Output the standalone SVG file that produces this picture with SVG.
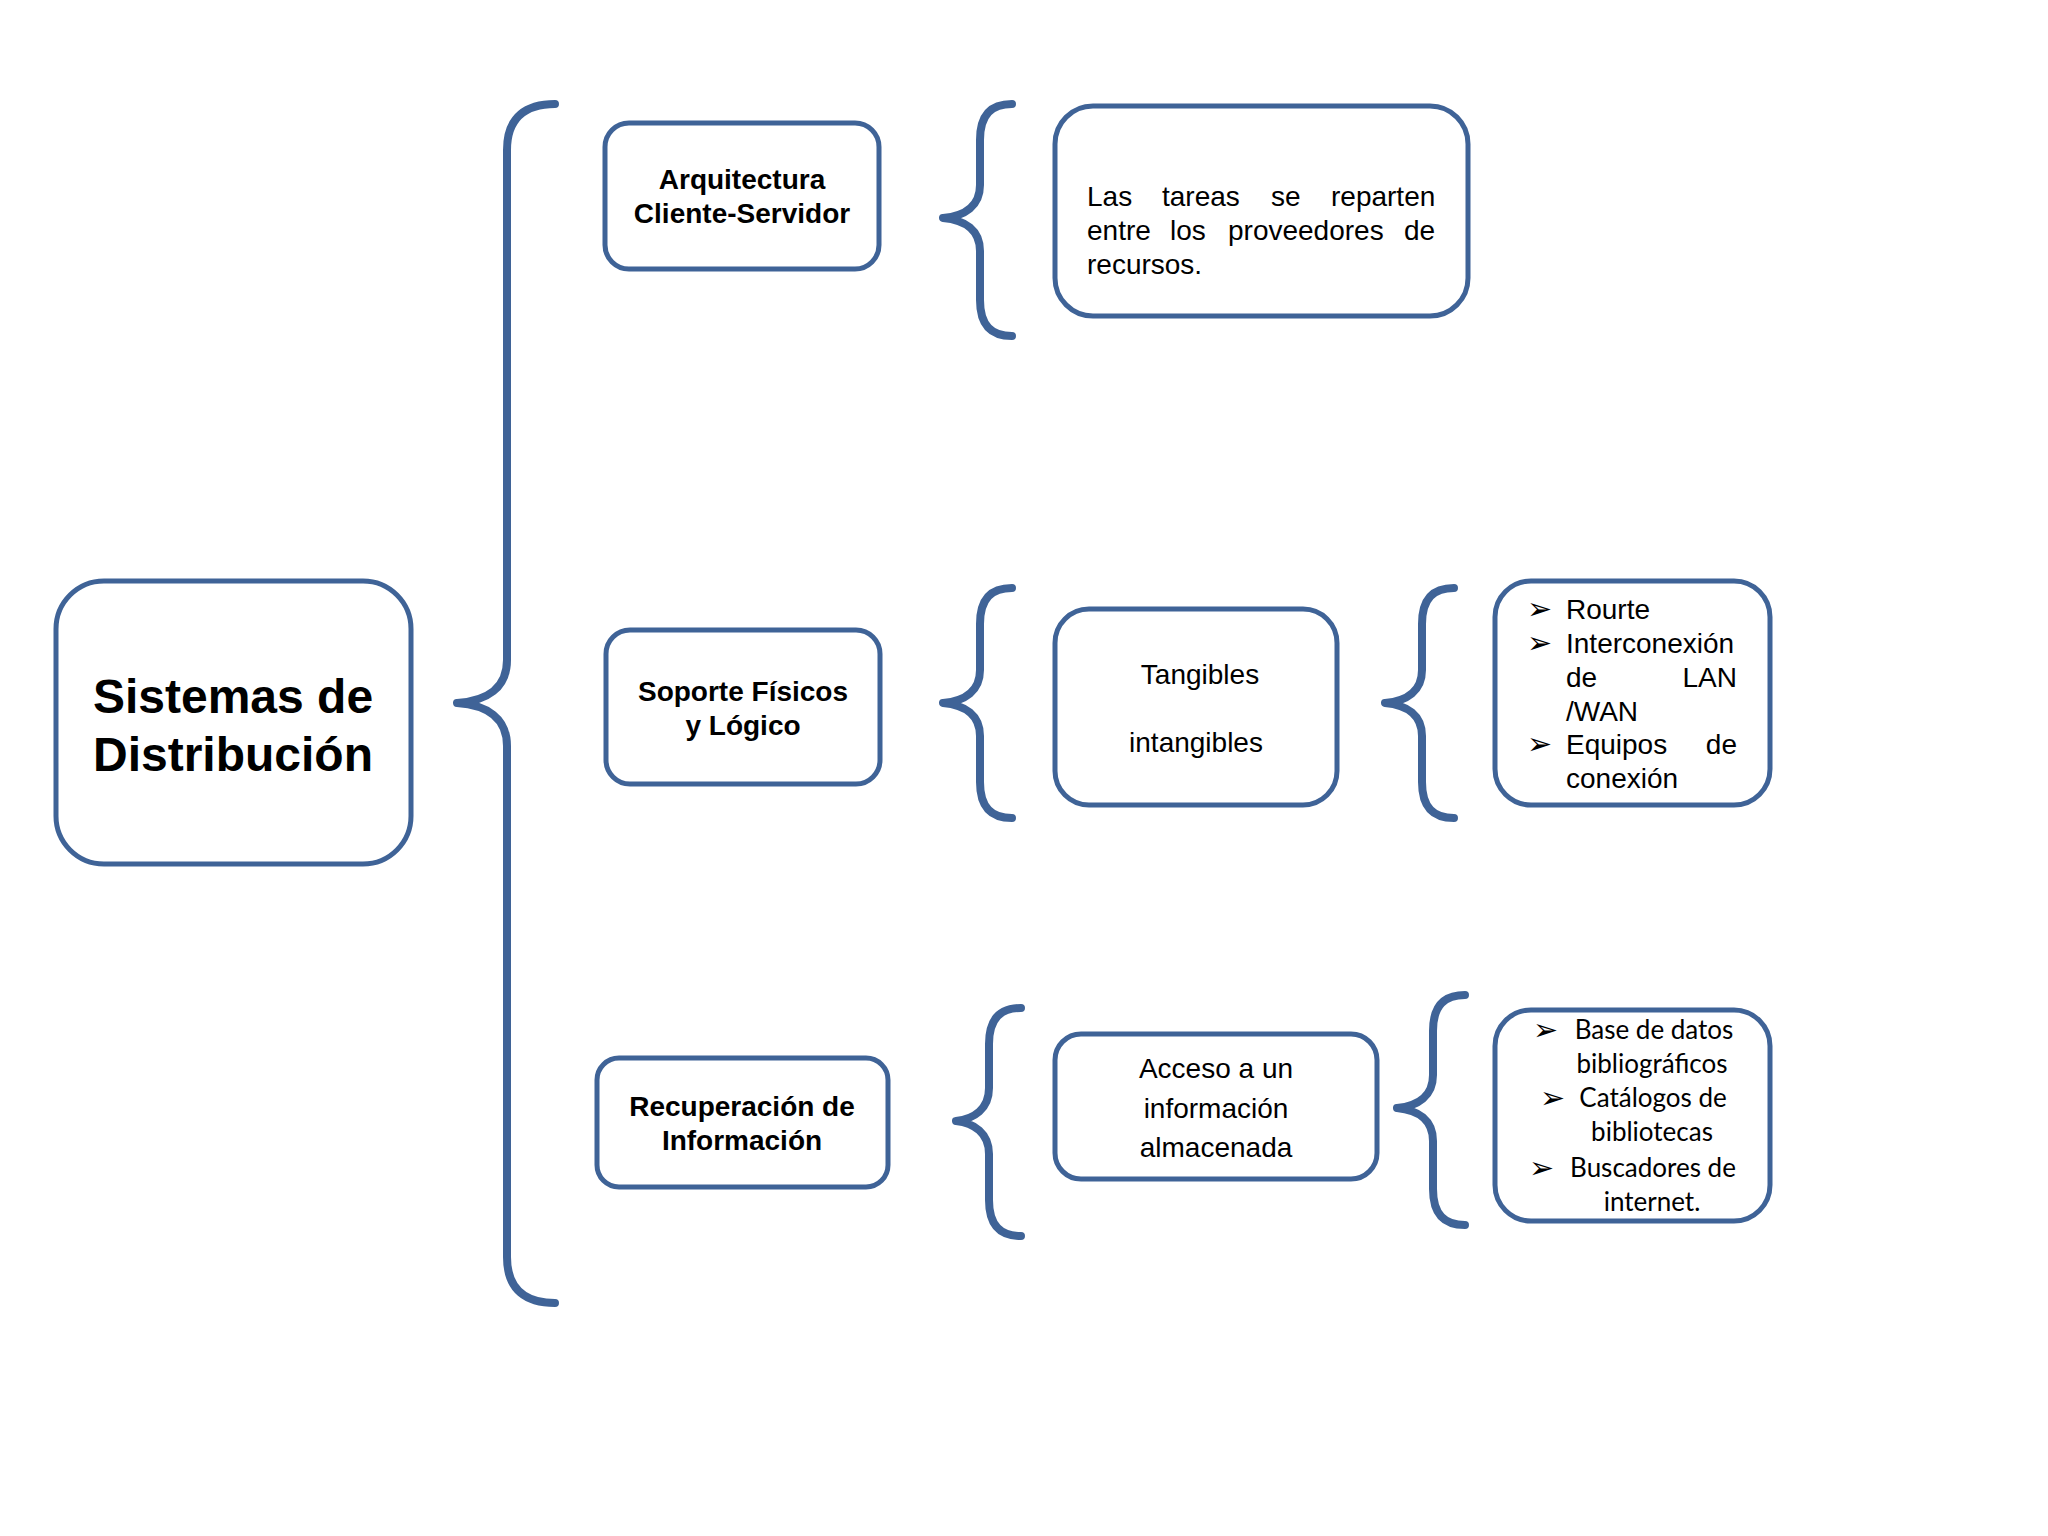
<svg xmlns="http://www.w3.org/2000/svg" width="2048" height="1536" viewBox="0 0 2048 1536">
<style>
.box{fill:#fff;stroke:#3F6397;stroke-width:5}
.brace{fill:none;stroke:#3F6397;stroke-width:8;stroke-linecap:round;stroke-linejoin:round}
.t{font-family:"Liberation Sans",Arial,sans-serif;font-size:28px;fill:#000}
.b{font-weight:bold}
.c{font-family:Lato,"Open Sans",sans-serif;font-size:26px;fill:#000}
.bul{font-family:"DejaVu Sans",sans-serif;font-size:30px;fill:#000}
</style>
<rect width="2048" height="1536" fill="#fff"/>
<g id="connectors">
<path class="brace" d="M555,104 C527,104 507,116 507,150 L507,660 C507,688 487,701 457,703 C487,705 507,718 507,746 L507,1257 C507,1291 527,1303 555,1303"/>
<path class="brace" d="M1012,104 C992,104 980,114 980,140 L980,185 C980,206 965,216 943,218 C965,220 980,230 980,251 L980,300 C980,326 992,336 1012,336"/>
<path class="brace" d="M1012,588 C992,588 980,598 980,624 L980,670 C980,691 965,701 943,703 C965,705 980,715 980,736 L980,782 C980,808 992,818 1012,818"/>
<path class="brace" d="M1454,588 C1434,588 1422,598 1422,624 L1422,670 C1422,691 1407,701 1385,703 C1407,705 1422,715 1422,736 L1422,782 C1422,808 1434,818 1454,818"/>
<path class="brace" d="M1021,1008 C1001,1008 989,1018 989,1044 L989,1088 C989,1109 974,1119 956,1121 C974,1123 989,1133 989,1154 L989,1200 C989,1226 1001,1236 1021,1236"/>
<path class="brace" d="M1465,995 C1445,995 1433,1005 1433,1031 L1433,1075 C1433,1096 1418,1106 1397,1108 C1418,1110 1433,1120 1433,1141 L1433,1189 C1433,1215 1445,1225 1465,1225"/>
</g>
<g id="main">
<rect class="box" x="56" y="581" width="355" height="283" rx="48"/>
<text class="t b" style="font-size:48px" text-anchor="middle"><tspan x="233" y="713">Sistemas de</tspan><tspan x="233" y="771">Distribución</tspan></text>
</g>
<g id="arquitectura">
<rect class="box" x="605" y="123" width="274" height="146" rx="24"/>
<text class="t b" text-anchor="middle"><tspan x="742" y="189">Arquitectura</tspan><tspan x="742" y="223">Cliente-Servidor</tspan></text>
</g>
<g id="tareas">
<rect class="box" x="1055" y="106" width="413" height="210" rx="38"/>
<text class="t"><tspan x="1087" y="206">Las</tspan><tspan x="1162" y="206">tareas</tspan><tspan x="1271" y="206">se</tspan><tspan x="1331" y="206">reparten</tspan><tspan x="1087" y="240">entre</tspan><tspan x="1170" y="240">los</tspan><tspan x="1228" y="240">proveedores</tspan><tspan x="1404" y="240">de</tspan><tspan x="1087" y="274">recursos.</tspan></text>
</g>
<g id="soporte">
<rect class="box" x="606" y="630" width="274" height="154" rx="24"/>
<text class="t b" text-anchor="middle"><tspan x="743" y="701">Soporte Físicos</tspan><tspan x="743" y="735">y Lógico</tspan></text>
</g>
<g id="tangibles">
<rect class="box" x="1055" y="609" width="282" height="196" rx="34"/>
<text class="t" text-anchor="middle"><tspan x="1200" y="684">Tangibles</tspan><tspan x="1196" y="752">intangibles</tspan></text>
</g>
<g id="lista-red">
<rect class="box" x="1495" y="581" width="275" height="224" rx="36"/>
<text class="bul"><tspan x="1527" y="619">➢</tspan><tspan x="1527" y="653">➢</tspan><tspan x="1527" y="754">➢</tspan></text>
<text class="t"><tspan x="1566" y="619">Rourte</tspan><tspan x="1566" y="653">Interconexión</tspan><tspan x="1566" y="687">de</tspan><tspan x="1566" y="721">/WAN</tspan><tspan x="1566" y="754">Equipos</tspan><tspan x="1566" y="788">conexión</tspan></text>
<text class="t" text-anchor="end"><tspan x="1737" y="687">LAN</tspan><tspan x="1737" y="754">de</tspan></text>
</g>
<g id="recuperacion">
<rect class="box" x="597" y="1058" width="291" height="129" rx="22"/>
<text class="t b" text-anchor="middle"><tspan x="742" y="1116">Recuperación de</tspan><tspan x="742" y="1150">Información</tspan></text>
</g>
<g id="acceso">
<rect class="box" x="1055" y="1034" width="322" height="145" rx="26"/>
<text class="t" text-anchor="middle"><tspan x="1216" y="1078">Acceso a un</tspan><tspan x="1216" y="1118">información</tspan><tspan x="1216" y="1157">almacenada</tspan></text>
</g>
<g id="lista-info">
<rect class="box" x="1495" y="1010" width="275" height="211" rx="36"/>
<text class="bul"><tspan x="1533" y="1040">➢</tspan><tspan x="1540" y="1108">➢</tspan><tspan x="1529" y="1178">➢</tspan></text>
<text class="c" text-anchor="middle"><tspan x="1654" y="1039">Base de datos</tspan><tspan x="1652" y="1073">bibliográficos</tspan><tspan x="1653" y="1107">Catálogos de</tspan><tspan x="1652" y="1141">bibliotecas</tspan><tspan x="1653" y="1177">Buscadores de</tspan><tspan x="1652" y="1211">internet.</tspan></text>
</g>
</svg>
